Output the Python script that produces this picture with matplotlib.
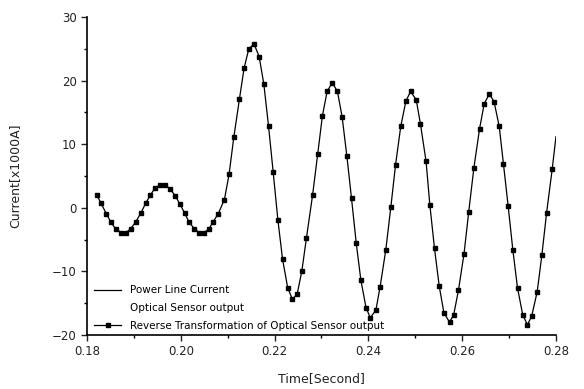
import matplotlib
matplotlib.use("Agg")
import matplotlib.pyplot as plt
from matplotlib.lines import Line2D
from matplotlib.ticker import MultipleLocator, FormatStrFormatter

# sample times [s]
t = [0.1821, 0.1830, 0.1841, 0.1851, 0.1861, 0.1873, 0.1883, 0.1893, 0.1904,
     0.1915, 0.1925, 0.1935, 0.1945, 0.1956, 0.1966, 0.1977, 0.1988, 0.1998,
     0.2008, 0.2018, 0.2029, 0.2039, 0.2050, 0.2060, 0.2069, 0.2080, 0.2093,
     0.2103, 0.2113, 0.2125, 0.2135, 0.2145, 0.2156, 0.2167, 0.2177, 0.2187,
     0.2197, 0.2207, 0.2217, 0.2228, 0.2238, 0.2248, 0.2258, 0.2268, 0.2281,
     0.2292, 0.2302, 0.2312, 0.2323, 0.2334, 0.2344, 0.2354, 0.2364, 0.2374,
     0.2384, 0.2395, 0.2404, 0.2416, 0.2425, 0.2437, 0.2448, 0.2458, 0.2469,
     0.2480, 0.2490, 0.2502, 0.2511, 0.2523, 0.2531, 0.2541, 0.2551, 0.2561,
     0.2573, 0.2582, 0.2592, 0.2604, 0.2614, 0.2625, 0.2637, 0.2647, 0.2658,
     0.2668, 0.2679, 0.2688, 0.2698, 0.2708, 0.2718, 0.2729, 0.2739, 0.2748,
     0.2760, 0.2770, 0.2780, 0.2792]

# current [x1000 A]
current = [2.0, 0.7, -0.9, -2.3, -3.3, -3.9, -3.9, -3.3, -2.2, -0.8, 0.7, 2.0,
           3.1, 3.6, 3.6, 3.0, 1.9, 0.6, -0.8, -2.3, -3.3, -3.9, -3.9, -3.3,
           -2.2, -0.9, 1.3, 5.3, 11.1, 17.1, 22.0, 25.0, 25.8, 23.8, 19.5,
           12.9, 5.6, -1.9, -8.1, -12.6, -14.4, -13.6, -10.0, -4.7, 2.0, 8.5,
           14.5, 18.3, 19.7, 18.3, 14.3, 8.2, 1.5, -5.5, -11.4, -15.7, -17.3,
           -16.1, -12.4, -6.7, 0.2, 6.8, 12.8, 16.8, 18.3, 17.0, 13.2, 7.3, 0.5,
           -6.4, -12.3, -16.5, -18.0, -16.8, -13.0, -7.2, -0.6, 6.3, 12.4, 16.4,
           17.9, 16.7, 12.8, 6.9, 0.3, -6.6, -12.6, -16.8, -18.4, -17.1, -13.2,
           -7.4, -0.8, 6.1]

# line keeps going a little past the last sample
t_line = t + [0.2800]
current_line = current + [11.2]

labels = ["Power Line Current",
          "Optical Sensor output",
          "Reverse Transformation of Optical Sensor output"]

plt.rcParams['font.family'] = ['DejaVu Sans']

fig = plt.figure(figsize=(5.84, 3.89), dpi=100)
ax = fig.add_axes([0.149, 0.139, 0.803, 0.817])

ax.plot(t_line, current_line, color="black", lw=0.9)
ax.plot(t, current, linestyle="none", marker="s", markersize=3.3,
        color="black")

ax.set_xlim(0.18, 0.28)
ax.set_ylim(-20, 30)
ax.xaxis.set_major_locator(MultipleLocator(0.02))
ax.xaxis.set_minor_locator(MultipleLocator(0.01))
ax.yaxis.set_major_locator(MultipleLocator(10))
ax.yaxis.set_minor_locator(MultipleLocator(5))
ax.xaxis.set_major_formatter(FormatStrFormatter("%.2f"))
ax.tick_params(which="major", direction="out", length=4, width=1,
               labelsize=8.5, colors="#222222")
ax.tick_params(which="minor", direction="out", length=2, width=1)

for s in ["top", "right"]:
    ax.spines[s].set_visible(False)
for s in ["left", "bottom"]:
    ax.spines[s].set_linewidth(1.2)

ax.set_xlabel("Time[Second]", fontsize=9, color="#222222", labelpad=10)
ax.set_ylabel("Current[x1000A]", fontsize=9, color="#222222", labelpad=22)

handles = [Line2D([], [], color="black", lw=0.9),
           Line2D([], [], linestyle="none"),
           Line2D([], [], color="black", lw=0.9, marker="s", markersize=2.5)]
ax.legend(handles, labels, loc="lower left", bbox_to_anchor=(0.0, -0.01),
          frameon=False, fontsize=7.5, handlelength=2.6, labelspacing=0.75,
          borderaxespad=0.3)

fig.savefig("out.png", dpi=100)
